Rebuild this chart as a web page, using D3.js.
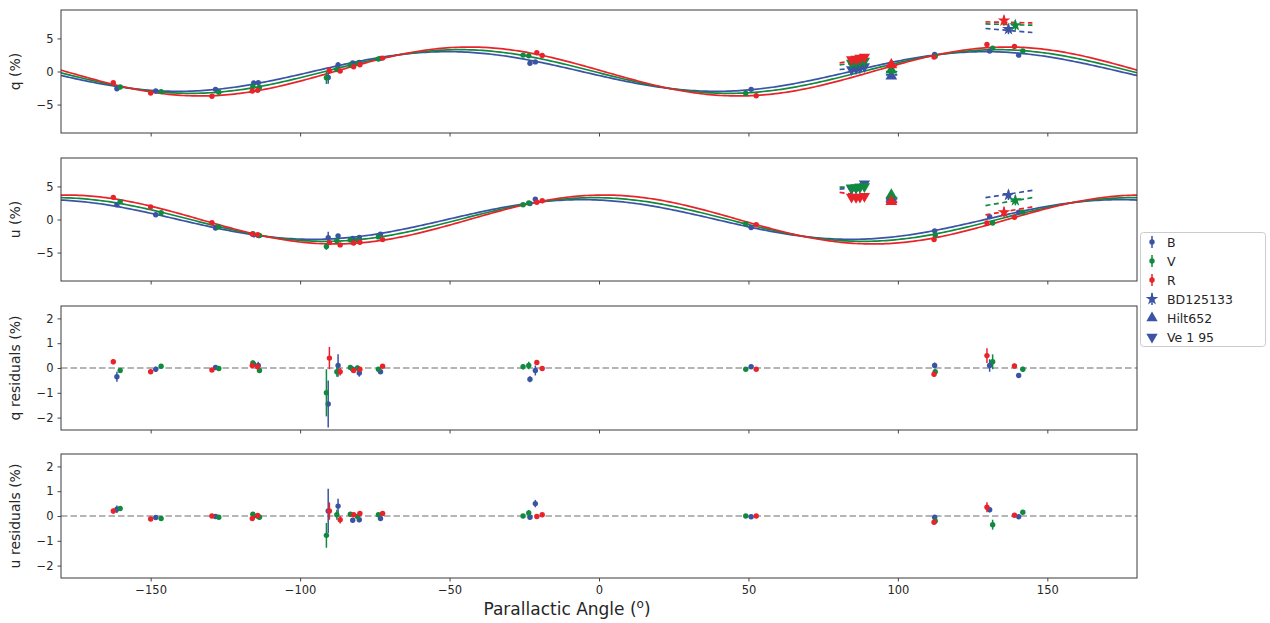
<!DOCTYPE html>
<html><head><meta charset="utf-8">
<script src="https://cdn.jsdelivr.net/npm/d3@7"></script>
<style>body{margin:0;background:#fff}svg{display:block}text{font-family:"DejaVu Sans",sans-serif;fill:#262626}</style>
</head><body><svg id="c" width="1270" height="623"></svg>
<script>
// ---- Data ----
const bands = ["B", "V", "R"];
const colors = ["#3a53a4", "#0f8a3e", "#e8232a"];
const xTicks = [-150, -100, -50, 0, 50, 100, 150];
const polTicks = [-5, 0, 5];
const resTicks = [-2, -1, 0, 1, 2];

// fitted instrumental model (amplitude %, angle of q-maximum in deg) per band
const fitAmplitude = [3.0, 3.3, 3.7];
const fitAngle = [-50.8, -46.7, -43.4];

const angleB = [-161.3,-148.3,-128.3,-115.5,-114.0,-90.6,-87.3,-82.4,-80.2,-73.1,-23.1,-21.3,50.9,112.3,130.7,140.4];
const qB = [-2.61,-2.95,-2.70,-1.75,-1.68,-0.91,0.98,1.30,1.35,1.99,1.25,1.45,-2.70,2.59,3.10,2.47];
const uB = [2.24,0.72,-1.29,-2.32,-2.43,-2.75,-2.47,-2.85,-2.72,-2.21,2.42,3.07,-1.22,-1.72,0.41,1.11];
const qResB = [-0.35,-0.05,0.02,0.15,0.10,-1.45,0.10,-0.05,-0.20,-0.15,-0.45,-0.10,0.05,0.10,0.10,-0.30];
const uResB = [0.27,-0.06,-0.02,0.0,-0.02,0.20,0.40,-0.17,-0.15,-0.10,-0.05,0.50,-0.03,-0.05,0.25,-0.03];
const qErrB = [0.2,0.1,0.1,0.1,0.15,0.95,0.45,0.1,0.15,0.08,0.12,0.2,0.05,0.12,0.25,0.1];
const uErrB = [0.15,0.07,0.06,0.08,0.08,0.9,0.3,0.08,0.1,0.08,0.08,0.15,0.05,0.08,0.1,0.08];

const angleV = [-160.2,-146.5,-127.2,-115.8,-113.6,-91.2,-87.7,-83.2,-80.8,-73.8,-25.4,-23.5,49.1,112.5,131.7,141.8];
const qV = [-2.35,-3.04,-3.14,-2.26,-2.38,-0.94,0.31,0.98,1.23,1.88,2.48,2.38,-3.28,2.32,3.54,3.11];
const uV = [2.71,1.01,-1.12,-2.13,-2.43,-4.08,-3.22,-3.09,-3.08,-2.63,2.23,2.51,-0.66,-2.39,-0.53,1.11];
const qResV = [-0.10,0.07,-0.02,0.20,-0.10,-1.00,-0.15,0.02,0.00,-0.05,0.05,0.10,-0.05,-0.15,0.25,-0.05];
const uResV = [0.30,-0.10,-0.05,0.07,-0.05,-0.78,0.05,0.07,-0.02,0.05,0.00,0.12,0.00,-0.20,-0.35,0.15];
const qErrV = [0.1,0.08,0.07,0.1,0.08,0.95,0.2,0.07,0.1,0.07,0.1,0.15,0.05,0.1,0.3,0.1];
const uErrV = [0.1,0.07,0.06,0.08,0.08,0.5,0.2,0.07,0.08,0.06,0.06,0.12,0.05,0.08,0.2,0.08];

const angleR = [-162.5,-150.0,-129.5,-116.0,-114.2,-90.2,-86.6,-82.1,-80.0,-72.4,-20.8,-19.0,52.6,112.1,129.8,139.0];
const qR = [-1.70,-3.25,-3.75,-2.94,-2.85,0.17,0.08,0.71,1.02,2.03,2.83,2.42,-3.67,2.18,4.10,3.77];
const uR = [3.35,1.91,-0.50,-2.21,-2.28,-3.49,-3.84,-3.56,-3.44,-3.04,2.61,2.83,-0.77,-3.04,-0.52,0.34];
const qResR = [0.25,-0.15,-0.08,0.10,0.05,0.40,-0.15,-0.10,-0.05,0.07,0.22,-0.02,-0.05,-0.25,0.50,0.08];
const uResR = [0.20,-0.12,0.00,-0.10,0.02,0.20,-0.15,0.05,0.10,0.10,-0.02,0.05,0.00,-0.25,0.35,0.03];
const qErrR = [0.1,0.08,0.07,0.08,0.08,0.45,0.15,0.07,0.07,0.06,0.1,0.08,0.05,0.1,0.3,0.1];
const uErrR = [0.1,0.07,0.06,0.08,0.08,0.35,0.15,0.06,0.06,0.06,0.05,0.06,0.05,0.08,0.2,0.08];

// standard stars (per band B, V, R)
const veAngle = [84.5, 86.0, 87.3, 88.8];
const veQ = [[0.3,0.45,0.55,0.75],[1.3,1.4,1.5,1.6],[1.8,1.9,2.05,2.2]];
const veU = [[4.7,4.8,4.9,5.4],[4.8,4.8,4.9,5.0],[3.4,3.35,3.4,3.5]];
const hiltAngle = [97.8];
const hiltQ = [[-0.7],[0.2],[1.0]];
const hiltU = [[3.2],[3.7],[2.7]];
const bdAngle = [[137.0],[139.3],[135.5]];
const bdQ = [[6.4],[7.0],[7.7]];
const bdU = [[3.7],[2.9],[1.1]];
// expected-value dashed segments: [angle start, angle end]
const veRange = [80.5, 89.0];
const veLineQ = [[0.3,0.6],[1.0,1.5],[1.3,1.9]];
const veLineU = [[4.6,4.9],[4.9,4.9],[4.1,3.6]];
const hiltRange = [96.0, 99.8];
const hiltLineQ = [[-0.5,-0.5],[0.0,0.0],[0.9,0.9]];
const hiltLineU = [[3.1,3.1],[3.3,3.3],[2.6,2.6]];
const bdRange = [129.3, 145.0];
const bdLineQ = [[6.5,5.9],[7.2,7.0],[7.5,7.35]];
const bdLineU = [[3.3,4.4],[2.1,3.3],[0.7,1.9]];

// ---- Build ----
const obs = [
  {a: angleB, q: qB, u: uB, qr: qResB, ur: uResB, qe: qErrB, ue: uErrB},
  {a: angleV, q: qV, u: uV, qr: qResV, ur: uResV, qe: qErrV, ue: uErrV},
  {a: angleR, q: qR, u: uR, qr: qResR, ur: uResR, qe: qErrR, ue: uErrR}
];

const svg = d3.select("#c");
const L = 61, R = 1137;
const x = d3.scaleLinear().domain([-180, 180]).range([L, R]);
const panels = [
  {top: 10, bot: 133, dom: [-9.3, 9.3], ticks: polTicks, label: "q (%)", key: "q", ek: "qe"},
  {top: 158, bot: 281, dom: [-9.3, 9.3], ticks: polTicks, label: "u (%)", key: "u", ek: "ue"},
  {top: 306, bot: 430, dom: [-2.5, 2.5], ticks: resTicks, label: "q residuals (%)", key: "qr", ek: "qe"},
  {top: 454, bot: 578, dom: [-2.5, 2.5], ticks: resTicks, label: "u residuals (%)", key: "ur", ek: "ue"}
];
const fmt = d => (d < 0 ? "\u2212" + Math.abs(d) : "" + d);

panels.forEach((p, pi) => {
  const y = d3.scaleLinear().domain(p.dom).range([p.bot, p.top]);
  const g = svg.append("g");
  const clipId = "clip" + pi;
  svg.append("clipPath").attr("id", clipId).append("rect")
    .attr("x", L).attr("y", p.top).attr("width", R - L).attr("height", p.bot - p.top);
  const plot = g.append("g").attr("clip-path", `url(#${clipId})`);

  // axes
  const xa = d3.axisBottom(x).tickValues(xTicks).tickSize(3.5).tickPadding(4).tickFormat(pi === 3 ? fmt : () => "");
  const xg = g.append("g").attr("transform", `translate(0,${p.bot})`).call(xa);
  const ya = d3.axisLeft(y).tickValues(p.ticks).tickSize(3.5).tickPadding(4).tickFormat(fmt);
  const yg = g.append("g").attr("transform", `translate(${L},0)`).call(ya);
  [xg, yg].forEach(ax => {
    ax.select(".domain").remove();
    ax.selectAll("line").attr("stroke", "#333").attr("stroke-width", 0.9);
    ax.selectAll("text").style("font-size", "11.5px").attr("fill", "#262626");
  });
  g.append("text").attr("transform", `translate(20,${(p.top + p.bot) / 2}) rotate(-90)`)
    .attr("text-anchor", "middle").style("font-size", "14px").text(p.label);

  if (pi < 2) {
    // model curves
    const samples = d3.range(-180, 180.5, 1);
    bands.forEach((b, bi) => {
      const line = d3.line().x(t => x(t)).y(t => {
        const ph = 2 * (t - fitAngle[bi]) * Math.PI / 180;
        return y(fitAmplitude[bi] * (pi === 0 ? Math.cos(ph) : Math.sin(ph)));
      });
      plot.append("path").datum(samples).attr("d", line).attr("fill", "none")
        .attr("stroke", colors[bi]).attr("stroke-width", 1.7);
    });
  } else {
    plot.append("line").attr("x1", L).attr("x2", R).attr("y1", y(0)).attr("y2", y(0))
      .attr("stroke", "#b5b5b5").attr("stroke-width", 1.8).attr("stroke-dasharray", "6.5,3");
  }

  // observations with error bars
  bands.forEach((b, bi) => {
    const o = obs[bi];
    o.a.forEach((a, i) => {
      const v = o[p.key][i], e = o[p.ek][i];
      plot.append("line").attr("x1", x(a)).attr("x2", x(a)).attr("y1", y(v - e)).attr("y2", y(v + e))
        .attr("stroke", colors[bi]).attr("stroke-width", 1.5);
      plot.append("circle").attr("cx", x(a)).attr("cy", y(v)).attr("r", 2.7).attr("fill", colors[bi]);
    });
  });

  if (pi < 2) {
    const seg = (rng, vals, bi) => plot.append("line")
      .attr("x1", x(rng[0])).attr("x2", x(rng[1])).attr("y1", y(vals[0])).attr("y2", y(vals[1]))
      .attr("stroke", colors[bi]).attr("stroke-width", 1.7).attr("stroke-dasharray", "5,3.5");
    const sym = (type, size, rot, ax, vy, bi) => plot.append("path")
      .attr("d", d3.symbol().type(type).size(size)())
      .attr("transform", `translate(${x(ax)},${y(vy)}) rotate(${rot})`).attr("fill", colors[bi]);
    bands.forEach((b, bi) => {
      seg(veRange, pi === 0 ? veLineQ[bi] : veLineU[bi], bi);
      seg(hiltRange, pi === 0 ? hiltLineQ[bi] : hiltLineU[bi], bi);
      seg(bdRange, pi === 0 ? bdLineQ[bi] : bdLineU[bi], bi);
    });
    bands.forEach((b, bi) => {
      veAngle.forEach((a, i) => sym(d3.symbolTriangle, 55, 180, a, (pi === 0 ? veQ : veU)[bi][i], bi));
      hiltAngle.forEach((a, i) => sym(d3.symbolTriangle, 60, 0, a, (pi === 0 ? hiltQ : hiltU)[bi][i], bi));
      bdAngle[bi].forEach((a, i) => {
        const v = (pi === 0 ? bdQ : bdU)[bi][i];
        plot.append("line").attr("x1", x(a)).attr("x2", x(a)).attr("y1", y(v) - 5).attr("y2", y(v) + 5)
          .attr("stroke", colors[bi]).attr("stroke-width", 1.5);
        sym(d3.symbolStar, 50, 0, a, v, bi);
      });
    });
  }

  g.append("rect").attr("x", L).attr("y", p.top).attr("width", R - L).attr("height", p.bot - p.top)
    .attr("fill", "none").attr("stroke", "#3a3a3a").attr("stroke-width", 1);
});

// x label
const xl = svg.append("text").attr("x", 567).attr("y", 615).attr("text-anchor", "middle").style("font-size", "17px");
xl.append("tspan").text("Parallactic Angle (");
xl.append("tspan").attr("dy", -7).style("font-size", "12px").text("o");
xl.append("tspan").attr("dy", 7).text(")");

// legend
const lg = svg.append("g");
lg.append("rect").attr("x", 1140.5).attr("y", 232.5).attr("width", 125).attr("height", 114).attr("rx", 3)
  .attr("fill", "#fff").attr("stroke", "#cccccc");
const legendNames = ["B", "V", "R", "BD125133", "Hilt652", "Ve 1 95"];
legendNames.forEach((n, i) => {
  const cy = 242 + i * 19;
  const cx = 1152;
  const c = i < 3 ? colors[i] : colors[0];
  if (i < 4) {
    lg.append("line").attr("x1", cx).attr("x2", cx).attr("y1", cy - 6).attr("y2", cy + 6)
      .attr("stroke", c).attr("stroke-width", 1.5);
  }
  if (i < 3) lg.append("circle").attr("cx", cx).attr("cy", cy).attr("r", 2.7).attr("fill", c);
  else {
    const type = i === 3 ? d3.symbolStar : d3.symbolTriangle;
    lg.append("path").attr("d", d3.symbol().type(type).size(i === 3 ? 50 : 55)())
      .attr("transform", `translate(${cx},${cy}) rotate(${i === 5 ? 180 : 0})`).attr("fill", c);
  }
  lg.append("text").attr("x", 1167).attr("y", cy + 4.5).style("font-size", "12.5px").text(n);
});
</script></body></html>
